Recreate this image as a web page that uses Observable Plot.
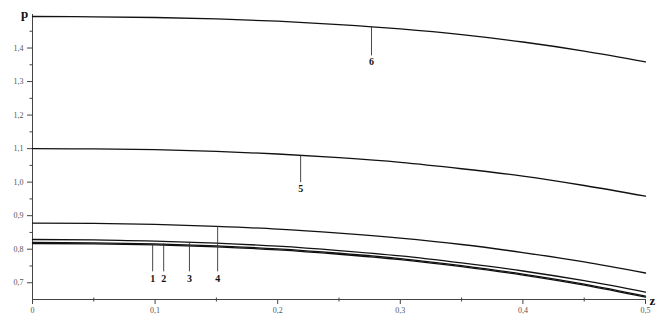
<!DOCTYPE html>
<html>
<head>
<meta charset="utf-8">
<script src="https://cdn.jsdelivr.net/npm/d3@7"></script>
<script src="https://cdn.jsdelivr.net/npm/@observablehq/plot@0.6"></script>
<style>
  html, body { margin: 0; padding: 0; background: #fff; }
</style>
</head>
<body>
<div id="chart"></div>
<script>
// z sample positions
const zValues = [0, 0.05, 0.1, 0.15, 0.2, 0.25, 0.3, 0.35, 0.4, 0.45, 0.5];
// p values per curve
const curve1 = [0.817, 0.816, 0.813, 0.807, 0.798, 0.785, 0.769, 0.748, 0.723, 0.693, 0.657];
const curve2 = [0.820, 0.819, 0.816, 0.810, 0.801, 0.788, 0.772, 0.751, 0.726, 0.696, 0.660];
const curve3 = [0.829, 0.828, 0.824, 0.818, 0.809, 0.796, 0.780, 0.759, 0.735, 0.706, 0.672];
const curve4 = [0.878, 0.877, 0.874, 0.868, 0.860, 0.848, 0.833, 0.814, 0.790, 0.762, 0.729];
const curve5 = [1.100, 1.099, 1.097, 1.092, 1.084, 1.073, 1.059, 1.040, 1.018, 0.990, 0.958];
const curve6 = [1.494, 1.493, 1.491, 1.487, 1.480, 1.470, 1.457, 1.440, 1.418, 1.391, 1.359];
const curves = [curve1, curve2, curve3, curve4, curve5, curve6];

// curve labels with leader lines
const labelNames = ["1", "2", "3", "4", "5", "6"];
const labelZ = [0.098, 0.107, 0.128, 0.151, 0.2187, 0.2765];
const leaderTop = [0.814, 0.818, 0.820, 0.868, 1.080, 1.464];
const leaderBottom = [0.734, 0.734, 0.734, 0.734, 1.000, 1.378];
const labelP = [0.712, 0.712, 0.712, 0.712, 0.980, 1.359];

// ticks
const xMajor = [0, 0.1, 0.2, 0.3, 0.4, 0.5];
const xMinor = [0.05, 0.15, 0.25, 0.35, 0.45];
const yMajor = [0.7, 0.8, 0.9, 1.0, 1.1, 1.2, 1.3, 1.4];
const yMinor = [0.75, 0.85, 0.95, 1.05, 1.15, 1.25, 1.35, 1.45];

const rows = curves.flatMap((c, i) => c.map((p, j) => ({curve: labelNames[i], z: zValues[j], p})));
const labels = labelNames.map((n, i) => ({n, z: labelZ[i], top: leaderTop[i], bot: leaderBottom[i], p: labelP[i]}));
const fmt = d => d === 0 ? "0" : d.toFixed(1).replace(".", ",");

const chart = Plot.plot({
  width: 658,
  height: 329,
  marginLeft: 32,
  marginRight: 13,
  marginTop: 14,
  marginBottom: 30,
  style: {fontFamily: "Liberation Serif", fontSize: "8px", background: "#fff", overflow: "visible"},
  x: {domain: [0, 0.5]},
  y: {domain: [0.65, 1.5]},
  marks: [
    Plot.ruleX([0], {stroke: "#444", strokeWidth: 1}),
    Plot.ruleY([0.65], {stroke: "#444", strokeWidth: 1}),
    Plot.axisY({ticks: yMajor, tickSize: 5, tickPadding: 4, tickFormat: fmt, label: null, fill: "#555", stroke: "#444", fontFamily: "Liberation Serif", fontSize: 8}),
    Plot.axisY({ticks: yMinor, tickSize: 2.5, tickFormat: () => "", label: null, stroke: "#444"}),
    Plot.axisX({ticks: xMajor, tickSize: 5, tickPadding: 3, tickFormat: fmt, label: null, fill: "#555", stroke: "#444", fontFamily: "Liberation Serif", fontSize: 8}),
    Plot.link(xMinor, {x1: d => d, x2: d => d, y1: () => 0.644, y2: () => 0.656, stroke: "#444", strokeWidth: 1, clip: false}),
    Plot.line(rows, {x: "z", y: "p", z: "curve", stroke: "#111", strokeWidth: 1.3, curve: "monotone-x"}),
    Plot.link(labels, {x1: "z", x2: "z", y1: "top", y2: "bot", stroke: "#333", strokeWidth: 0.9}),
    Plot.text(labels, {x: "z", y: "p", text: "n", fontWeight: "bold", fontSize: 10, fill: "#111", fontFamily: "Liberation Serif"}),
    Plot.text([{x: 0, y: 1.5, t: "p"}], {x: "x", y: "y", text: "t", dx: -8, dy: -1, fontWeight: "bold", fontSize: 13, fill: "#111", fontFamily: "Liberation Serif"}),
    Plot.text([{x: 0.5, y: 0.65, t: "z"}], {x: "x", y: "y", text: "t", dx: 7, dy: 1, fontWeight: "bold", fontSize: 13, fill: "#111", fontFamily: "Liberation Serif"})
  ]
});
document.getElementById("chart").appendChild(chart);
</script>
</body>
</html>
